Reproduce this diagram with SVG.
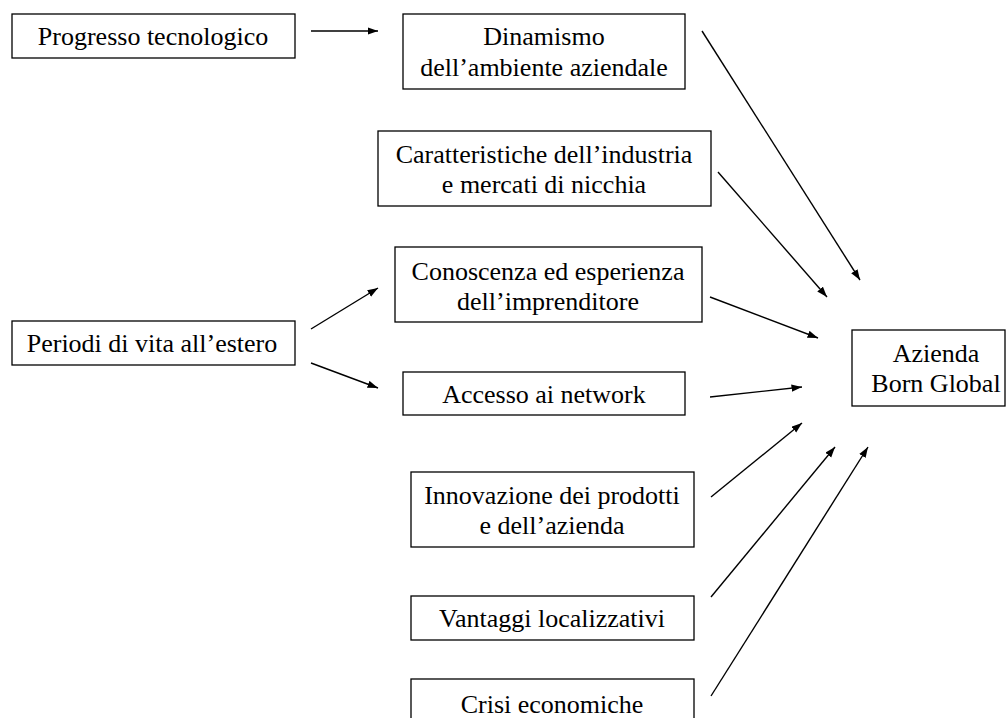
<svg xmlns="http://www.w3.org/2000/svg" width="1007" height="718" viewBox="0 0 1007 718">
<defs>
<marker id="ah" markerUnits="userSpaceOnUse" markerWidth="11" markerHeight="8" refX="10.5" refY="3.75" orient="auto">
<path d="M0,0 L10.5,3.75 L0,7.5 z" fill="#000"/>
</marker>
<style>
.box{fill:#fff;stroke:#000;stroke-width:1.3}
.t{font-family:"Liberation Serif","Times New Roman",serif;font-size:26px;fill:#000;text-anchor:middle}
.c{stroke:#000;stroke-width:1.4;fill:none;marker-end:url(#ah)}
</style>
</defs>
<rect width="1007" height="718" fill="#fff"/>
<g id="progresso"><rect class="box" x="12" y="14" width="283" height="44"/><text class="t" x="153" y="45">Progresso tecnologico</text></g>
<g id="dinamismo"><rect class="box" x="403" y="14" width="282" height="75"/><text class="t" x="544" y="45">Dinamismo</text><text class="t" x="544" y="76">dell’ambiente aziendale</text></g>
<g id="caratteristiche"><rect class="box" x="378" y="131" width="333" height="75"/><text class="t" x="544" y="163">Caratteristiche dell’industria</text><text class="t" x="544" y="193">e mercati di nicchia</text></g>
<g id="conoscenza"><rect class="box" x="395" y="247" width="307" height="75"/><text class="t" x="548" y="280">Conoscenza ed esperienza</text><text class="t" x="548" y="310">dell’imprenditore</text></g>
<g id="periodi"><rect class="box" x="12" y="321" width="283" height="44"/><text class="t" x="152" y="352">Periodi di vita all’estero</text></g>
<g id="accesso"><rect class="box" x="403" y="372" width="282" height="43"/><text class="t" x="544" y="403">Accesso ai network</text></g>
<g id="innovazione"><rect class="box" x="411" y="472" width="283" height="75"/><text class="t" x="552" y="504">Innovazione dei prodotti</text><text class="t" x="552" y="534">e dell’azienda</text></g>
<g id="vantaggi"><rect class="box" x="411" y="596" width="283" height="44"/><text class="t" x="552" y="627">Vantaggi localizzativi</text></g>
<g id="crisi"><rect class="box" x="411" y="679" width="283" height="50"/><text class="t" x="552" y="713">Crisi economiche</text></g>
<g id="azienda"><rect class="box" x="852" y="330" width="153" height="76"/><text class="t" x="936" y="362">Azienda</text><text class="t" x="936" y="392">Born Global</text></g>
<g id="connectors">
<line class="c" x1="311" y1="31" x2="378" y2="31"/>
<line class="c" x1="311" y1="329" x2="378" y2="288"/>
<line class="c" x1="311" y1="363" x2="378" y2="388"/>
<line class="c" x1="702" y1="31" x2="860" y2="280"/>
<line class="c" x1="718" y1="172" x2="827" y2="297"/>
<line class="c" x1="710" y1="297" x2="818" y2="338"/>
<line class="c" x1="710" y1="397" x2="802" y2="387"/>
<line class="c" x1="711" y1="497" x2="802" y2="423"/>
<line class="c" x1="711" y1="597" x2="835" y2="447"/>
<line class="c" x1="711" y1="696" x2="868" y2="447"/>
</g>
</svg>
